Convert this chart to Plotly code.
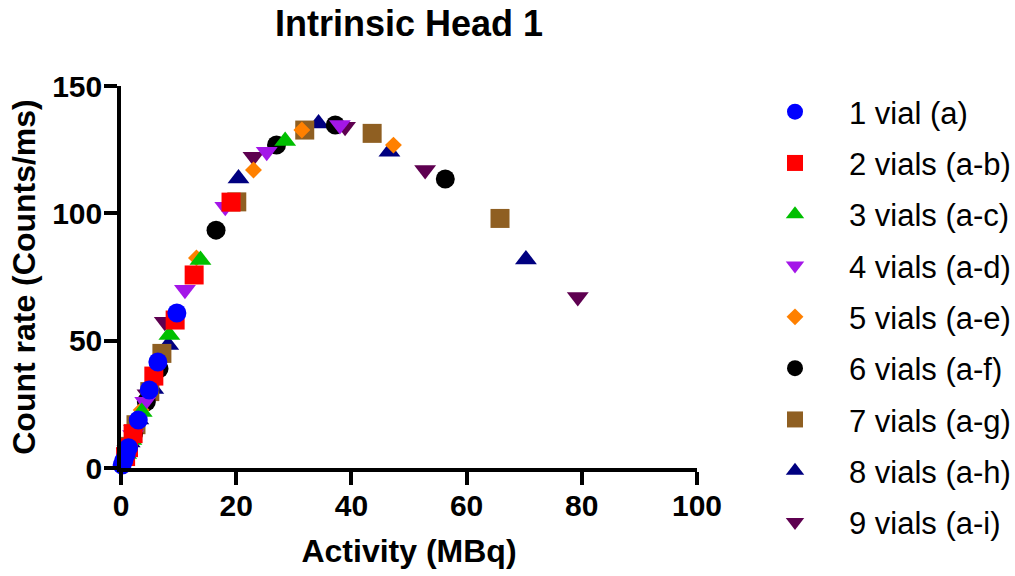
import plotly.graph_objects as go

# Activity (MBq) and measured count rate (Counts/ms) for each vial combination
labels = ["1 vial (a)", "2 vials (a-b)", "3 vials (a-c)", "4 vials (a-d)", "5 vials (a-e)",
          "6 vials (a-f)", "7 vials (a-g)", "8 vials (a-h)", "9 vials (a-i)"]

act_1 = [0.2, 0.5, 0.9, 1.3, 3.0, 4.9, 6.4, 9.7]
cps_1 = [1.2, 3.0, 5.5, 8.0, 18.8, 30.6, 41.6, 60.9]

act_2 = [0.8, 1.3, 2.1, 5.7, 9.4, 12.7, 19.1]
cps_2 = [4.5, 8.0, 13.5, 36.1, 58.1, 75.8, 104.4]

act_3 = [0.9, 1.8, 3.6, 8.4, 13.8, 28.5]
cps_3 = [5.5, 11.0, 22.0, 52.2, 81.7, 128.4]

act_4 = [1.0, 2.1, 4.2, 11.1, 18.1, 25.3, 38.0]
cps_4 = [6.0, 13.0, 26.0, 70.0, 102.6, 124.2, 134.7]

act_5 = [0.6, 1.3, 3.5, 13.1, 23.0, 31.4, 47.3]
cps_5 = [3.5, 8.0, 22.8, 82.5, 117.0, 132.7, 126.8]

act_6 = [1.0, 2.2, 4.4, 6.6, 16.5, 27.0, 37.2, 56.3]
cps_6 = [6.0, 13.5, 26.0, 39.0, 93.4, 126.8, 134.7, 113.5]

act_7 = [1.3, 2.6, 5.0, 7.1, 20.1, 31.9, 43.6, 65.8]
cps_7 = [8.5, 17.0, 30.0, 45.0, 104.5, 132.7, 131.4, 98.0]

act_8 = [1.5, 3.0, 5.6, 8.2, 20.4, 34.3, 46.6, 70.3]
cps_8 = [10.0, 19.0, 31.0, 48.3, 113.7, 135.3, 124.2, 81.9]

act_9 = [1.1, 2.3, 4.6, 7.6, 23.0, 38.9, 52.8, 79.3]
cps_9 = [7.0, 15.0, 29.0, 57.4, 122.2, 134.0, 117.0, 67.1]

x_ticks = [0, 20, 40, 60, 80, 100]
y_ticks = [0, 50, 100, 150]

activities = [act_1, act_2, act_3, act_4, act_5, act_6, act_7, act_8, act_9]
counts = [cps_1, cps_2, cps_3, cps_4, cps_5, cps_6, cps_7, cps_8, cps_9]

colors = ["#0000FF", "#FF0000", "#00BF00", "#A416E8", "#FF8000",
          "#000000", "#8F5F22", "#000080", "#5E0050"]
symbols = ["circle", "square", "triangle-up", "triangle-down", "diamond",
           "circle", "square", "triangle-up", "triangle-down"]
sizes = [19, 19, 19, 19, 13, 19, 19, 19, 19]

FONT = "Liberation Sans, Arial, sans-serif"

fig = go.Figure()
# Draw the largest set first so the single-vial points end up on top
for i in reversed(range(9)):
    fig.add_trace(go.Scatter(
        x=activities[i], y=counts[i], mode="markers", name=labels[i],
        legendgroup=labels[i], legendrank=i + 1, cliponaxis=False,
        marker=dict(symbol=symbols[i], color=colors[i], size=sizes[i],
                    line=dict(width=0)),
    ))

axis_common = dict(
    showline=True, linecolor="black", linewidth=3.5,
    ticks="outside", ticklen=13, tickwidth=3.5, tickcolor="black",
    showgrid=False, zeroline=False,
    tickfont=dict(family=FONT, size=30, color="black", weight="bold"),
)

fig.update_layout(
    width=1015, height=576, autosize=False,
    margin=dict(l=121, r=318, t=86, b=108),
    paper_bgcolor="white", plot_bgcolor="white",
    title=dict(text="Intrinsic Head 1", x=0.5, xref="paper", xanchor="center",
               y=1 - 23 / 576, yref="container", yanchor="middle",
               font=dict(family=FONT, size=36, color="black", weight="bold")),
    xaxis=dict(range=[0, 100], tickvals=x_ticks, ticklabelstandoff=-5,
               title=dict(text="Activity (MBq)", standoff=20,
                          font=dict(family=FONT, size=32, color="black", weight="bold")),
               **axis_common),
    yaxis=dict(range=[0, 150], tickvals=y_ticks, ticklabelstandoff=-4,
               title=dict(text="Count rate (Counts/ms)", standoff=8,
                          font=dict(family=FONT, size=32, color="black", weight="bold")),
               **axis_common),
    legend=dict(xref="container", yref="container", x=741 / 1015, y=1 - 85 / 576,
                xanchor="left", yanchor="top", itemwidth=98, tracegroupgap=8,
                maxheight=560,
                font=dict(family=FONT, size=31, color="black"),
                bgcolor="rgba(0,0,0,0)"),
    showlegend=True,
)

fig.write_html("out.html")
